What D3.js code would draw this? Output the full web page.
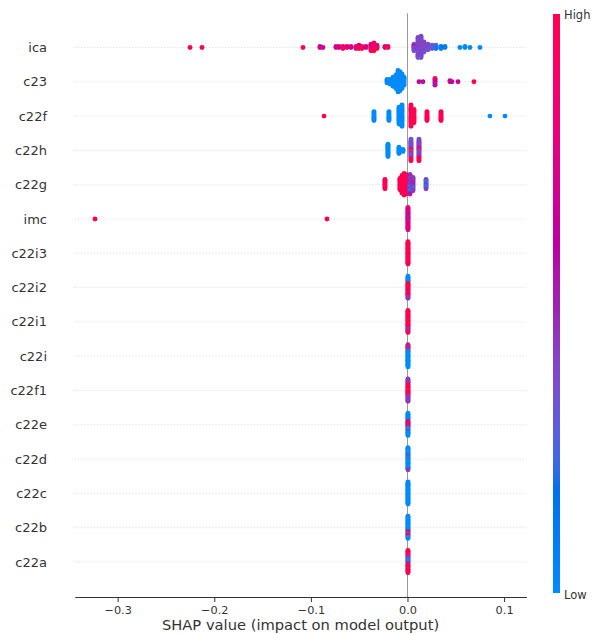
<!DOCTYPE html>
<html>
<head>
<meta charset="utf-8">
<script src="https://cdn.jsdelivr.net/npm/d3@7"></script>
<style>
  body { margin: 0; background: #fff; }
  svg { display: block; }
  text { font-family: "DejaVu Sans", sans-serif; fill: #333; }
</style>
</head>
<body>
<svg id="chart" width="592" height="634"></svg>
<script>
// Features, most important first
const features = ["ica", "c23", "c22f", "c22h", "c22g", "imc", "c22i3", "c22i2",
                  "c22i1", "c22i", "c22f1", "c22e", "c22d", "c22c", "c22b", "c22a"];

// Each entry: [SHAP value, feature values of the points sharing that value,
// listed top to bottom of the stack, 0 = low ... 9 = high]
const icaPoints = [
  [-0.2251, "9"], [-0.2127, "9"], [-0.1082, "9"],
  [-0.0906, "66"], [-0.0875, "6"],
  [-0.0740, "76"], [-0.0709, "96"],
  [-0.0668, "969"], [-0.0626, "77"], [-0.0585, "96"],
  [-0.0533, "797"], [-0.0502, "9669"], [-0.0471, "979"],
  [-0.0430, "96"],
  [-0.0378, "9696979"], [-0.0347, "79696979"], [-0.0316, "9679"],
  [-0.0233, "97"], [-0.0202, "79"],
  [0.0067, "3454343"], [0.0109, "4343343434434334343"],
  [0.0140, "34343434343433434343"], [0.0171, "3434343343"],
  [0.0212, "434343"], [0.0254, "3233"], [0.0295, "3221"],
  [0.0347, "111"], [0.0388, "11"],
  [0.0543, "0"], [0.0595, "00"], [0.0647, "0"], [0.0750, "0"]
];
const c23Points = [
  [-0.0212, "0000"], [-0.0181, "00000"], [-0.0150, "000000000"],
  [-0.0119, "0000000000000"], [-0.0098, "00000000000000000000"],
  [-0.0078, "000000000000000000"], [-0.0057, "00000000000000"],
  [-0.0036, "00000000"],
  [0.0119, "6"], [0.0160, "5"], [0.0285, "9976655"],
  [0.0440, "65"], [0.0461, "6"], [0.0523, "6"], [0.0688, "9"]
];
const c22fPoints = [
  [-0.0864, "9"],
  [-0.0347, "000000000"], [-0.0192, "000000000"],
  [-0.0088, "0000000000000000"], [-0.0057, "00000000000000000000"],
  [0.0036, "99999999999999999999"], [0.0067, "9999999999999"],
  [0.0202, "999999999"], [0.0347, "999999999"],
  [0.0854, "0"], [0.1009, "0"]
];
const c22hPoints = [
  [-0.0202, "0000000000000"], [-0.0088, "0000000"], [-0.0047, "000"],
  [0.0036, "3333433343993393434999"],
  [0.0119, "3434343349943434349999"]
];
const c22gPoints = [
  [-0.0233, "9999999999"],
  [-0.0078, "999999999999"], [-0.0057, "999999999999999999"],
  [-0.0036, "9999999999999999999999"], [-0.0016, "99999999999999999999"],
  [0.0026, "44544445444400440045"], [0.0057, "44444545444044"],
  [0.0192, "4400344004"]
];
const imcPoints = [
  [-0.3235, "9"], [-0.0833, "9"],
  [0.0005, "7777757777555757777577777777"]
];
const c22i3Points = [[0.0005, "9999999999999999999999999999"]];
const c22i2Points = [[0.0005, "0000000009999999999599999484"]];
const c22i1Points = [[0.0005, "9999999999999999999999944949"]];
const c22iPoints  = [[0.0005, "4494944900000000000000000000"]];
const c22f1Points = [[0.0005, "4444444999999999999994444444"]];
const c22ePoints  = [[0.0005, "0000000000959599950000900000"]];
const c22dPoints  = [[0.0005, "0000000000090000000000000004"]];
const c22cPoints  = [[0.0005, "0000000000000000000000000000"]];
const c22bPoints  = [[0.0005, "0000000000000000000959099400"]];
const c22aPoints  = [[0.0005, "9999999494040040499999949999"]];

const pointsByFeature = {
  ica: icaPoints, c23: c23Points, c22f: c22fPoints, c22h: c22hPoints,
  c22g: c22gPoints, imc: imcPoints, c22i3: c22i3Points, c22i2: c22i2Points,
  c22i1: c22i1Points, c22i: c22iPoints, c22f1: c22f1Points, c22e: c22ePoints,
  c22d: c22dPoints, c22c: c22cPoints, c22b: c22bPoints, c22a: c22aPoints
};

const xTicks = [-0.3, -0.2, -0.1, 0.0, 0.1];
const xDomain = [-0.3445, 0.1231];
const colorLabels = ["Low", "High"];

// ---- colour map: blue -> purple -> red in LCh, lightness dipping mid-way ----
function lchToRgb(L, C, H) {
  const a = C * Math.cos(H), b = C * Math.sin(H);
  const fy = (L + 16) / 116, fx = fy + a / 500, fz = fy - b / 200;
  const finv = t => (t > 6 / 29 ? t * t * t : 3 * (6 / 29) * (6 / 29) * (t - 4 / 29));
  const X = 0.95047 * finv(fx), Y = finv(fy), Z = 1.08883 * finv(fz);
  const lin = [
     3.2406 * X - 1.5372 * Y - 0.4986 * Z,
    -0.9689 * X + 1.8758 * Y + 0.0415 * Z,
     0.0557 * X - 0.2040 * Y + 1.0570 * Z
  ];
  const gam = v => {
    v = Math.max(0, Math.min(1, v));
    return v <= 0.0031308 ? 12.92 * v : 1.055 * Math.pow(v, 1 / 2.4) - 0.055;
  };
  return d3.rgb(...lin.map(v => Math.round(gam(v) * 255)));
}
function redBlue(t) {
  t = Math.max(0, Math.min(1, t));
  const L = t < 0.5 ? 54 + (40 - 54) * (t / 0.5) : 40 + (54 - 40) * ((t - 0.5) / 0.5);
  const C = 70 + (90 - 70) * t;
  const H = 4.6588 + ((0.35470565 + 2 * Math.PI) - 4.6588) * t;
  return lchToRgb(L, C, H).formatHex();
}
const fvScale = d3.scaleLinear().domain([0, 9]).range([0, 1]).clamp(true);
const color = v => redBlue(fvScale(v));

// ---- scales ----
const svg = d3.select("#chart");
const plot = { left: 74.7, right: 526.4, top: 13.2, bottom: 597 };

const x = d3.scaleLinear().domain(xDomain).range([plot.left, plot.right]);
const y = d3.scalePoint().domain(features).range([47.5, 562]);
const rowStep = y.step();

// ---- background guides ----
svg.append("g").selectAll("line").data(features).join("line")
  .attr("x1", plot.left).attr("x2", plot.right)
  .attr("y1", d => y(d)).attr("y2", d => y(d))
  .attr("stroke", "#cccccc").attr("stroke-width", 0.8)
  .attr("stroke-dasharray", "1,2.2");

svg.append("line")
  .attr("x1", x(0)).attr("x2", x(0))
  .attr("y1", plot.top).attr("y2", plot.bottom)
  .attr("stroke", "#999999").attr("stroke-width", 1);

// ---- beeswarm: stacks alternate above / below the row line ----
const dots = [];
features.forEach(f => {
  const stacks = pointsByFeature[f];
  const maxK = d3.max(stacks, s => s[1].length);
  const unit = 0.36 * rowStep / (Math.floor(maxK / 2) + 1);
  stacks.forEach(([shap, vals]) => {
    const k = vals.length;
    const top = Math.floor(k / 2);
    for (let i = 0; i < k; i++) {
      dots.push({ f, shap, v: +vals[i], off: (top - i) * unit });
    }
  });
});

svg.append("g").selectAll("circle").data(dots).join("circle")
  .attr("cx", d => x(d.shap))
  .attr("cy", d => y(d.f) - d.off)
  .attr("r", 2.45)
  .attr("fill", d => color(d.v));

// ---- feature labels ----
svg.append("g").selectAll("text").data(features).join("text")
  .attr("x", 47).attr("y", d => y(d))
  .attr("text-anchor", "end").attr("dominant-baseline", "central")
  .attr("font-size", 13).text(d => d);

// ---- x axis ----
const xAxis = svg.append("g").attr("transform", `translate(0,${plot.bottom})`)
  .call(d3.axisBottom(x).tickValues(xTicks).tickFormat(d3.format(".1f"))
    .tickSize(5).tickPadding(4).tickSizeOuter(0));
xAxis.select(".domain").attr("stroke", "#333");
xAxis.selectAll(".tick line").attr("stroke", "#333");
xAxis.selectAll(".tick text").attr("font-size", 11.3).attr("fill", "#333")
  .style("font-family", '"DejaVu Sans", sans-serif');

svg.append("text")
  .attr("x", (plot.left + plot.right) / 2).attr("y", 630)
  .attr("text-anchor", "middle").attr("font-size", 14.7)
  .text("SHAP value (impact on model output)");

// ---- colour bar ----
const bar = { x: 553, w: 7, top: 14, bottom: 593 };
const grad = svg.append("defs").append("linearGradient")
  .attr("id", "fvGrad").attr("x1", 0).attr("y1", 1).attr("x2", 0).attr("y2", 0);
d3.range(0, 1.0001, 0.02).forEach(t => {
  grad.append("stop").attr("offset", t).attr("stop-color", redBlue(t));
});
svg.append("rect")
  .attr("x", bar.x).attr("y", bar.top)
  .attr("width", bar.w).attr("height", bar.bottom - bar.top)
  .attr("fill", "url(#fvGrad)");

svg.append("text").attr("x", 564).attr("y", 598.5)
  .attr("font-size", 11.5).text(colorLabels[0]);
svg.append("text").attr("x", 564).attr("y", 18.5)
  .attr("font-size", 11.5).text(colorLabels[1]);
</script>
</body>
</html>
